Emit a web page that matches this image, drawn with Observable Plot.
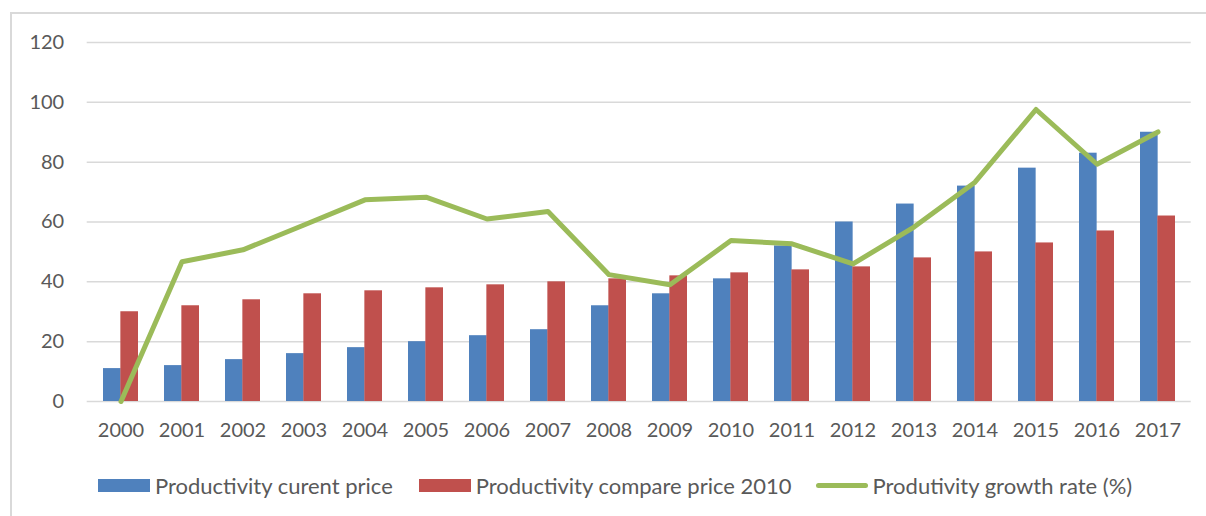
<!DOCTYPE html>
<html><head><meta charset="utf-8">
<script src="https://cdn.jsdelivr.net/npm/d3@7"></script>
<script src="https://cdn.jsdelivr.net/npm/@observablehq/plot@0.6"></script>
<style>
body{margin:0;background:#fff;font-family:Lato, "Liberation Sans", sans-serif;}
#wrap{position:relative;width:1206px;height:516px;overflow:hidden;}
#frame{position:absolute;left:10px;top:12px;width:1210px;height:520px;border-top:2px solid #d9d9d9;border-left:2px solid #d9d9d9;}
#chart{position:absolute;left:0;top:0;}
#legend{position:absolute;left:98px;top:471px;height:28px;display:flex;align-items:center;font-size:22px;color:#595959;white-space:nowrap;}
.item{display:flex;align-items:center;}
.sw{width:52px;height:13px;margin-right:5px;}
.ln{width:52px;height:5px;border-radius:3px;margin-right:5px;}
</style></head>
<body>
<div id="wrap"><div id="frame"></div><div id="chart"></div><div id="legend"></div></div>
<script>
const years = ["2000","2001","2002","2003","2004","2005","2006","2007","2008","2009","2010","2011","2012","2013","2014","2015","2016","2017"];
const curentPrice = [11,12,14,16,18,20,22,24,32,36,41,52,60,66,72,78,83,90];
const comparePrice = [30,32,34,36,37,38,39,40,41,42,43,44,45,48,50,53,57,62];
const growthRate = [0,46.7,50.7,59.0,67.4,68.3,61.0,63.5,42.4,39.0,53.8,52.7,46.0,58.3,73.3,97.6,79.3,90.1];
const yTicks = [0,20,40,60,80,100,120];
const seriesNames = ["Productivity curent price","Productivity compare price 2010","Produtivity growth rate (%)"];
const colors = ["#4F81BD","#C0504D","#9BBB59"];

const chart = Plot.plot({
  width: 1206, height: 460,
  marginLeft: 86.7, marginRight: 15.3, marginTop: 42, marginBottom: 59,
  style: {fontFamily: "Lato, 'Liberation Sans', sans-serif", fontSize: "20px", color: "#595959", background: "transparent", overflow: "visible"},
  x: {type: "band", domain: years, paddingInner: 0.434, paddingOuter: 0.217},
  y: {domain: [0,120]},
  marks: [
    Plot.gridY(yTicks, {stroke: "#d9d9d9", strokeOpacity: 1, strokeWidth: 1.5}),
    Plot.axisY(yTicks, {tickSize: 0, tickPadding: 23, label: null, fill: "#595959", fontSize: 20}),
    Plot.axisX({tickSize: 0, tickPadding: 21, label: null, fill: "#595959", fontSize: 20}),
    Plot.barY(years, {x: d => d, y: (d, i) => curentPrice[i], fill: colors[0], insetRight: 17.35}),
    Plot.barY(years, {x: d => d, y: (d, i) => comparePrice[i], fill: colors[1], insetLeft: 17.35}),
    Plot.lineY(years, {x: d => d, y: (d, i) => growthRate[i], stroke: colors[2], strokeWidth: 5, strokeLinejoin: "round"})
  ]
});
document.getElementById("chart").appendChild(chart);

const legend = document.getElementById("legend");
const gaps = [26, 24, 0];
seriesNames.forEach((name, i) => {
  const item = document.createElement("div");
  item.className = "item";
  item.style.marginRight = gaps[i] + "px";
  const sw = document.createElement("div");
  sw.className = i === 2 ? "ln" : "sw";
  sw.style.background = colors[i];
  const t = document.createElement("span");
  t.textContent = name;
  item.appendChild(sw); item.appendChild(t);
  legend.appendChild(item);
});
</script>
</body></html>
